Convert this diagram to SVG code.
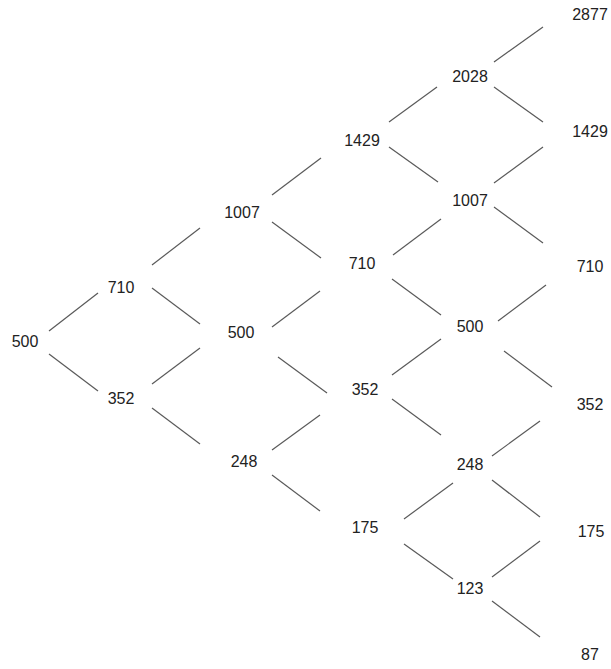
<svg xmlns="http://www.w3.org/2000/svg" width="611" height="669" viewBox="0 0 611 669">
<style>
.lbl{font-family:"Liberation Sans",Arial,sans-serif;font-size:16px;fill:#222;text-anchor:middle}
.edge{stroke:#5a5a5a;stroke-width:1.2;fill:none}
</style>
<rect width="611" height="669" fill="#fff"/>
<g id="connectors">
<line class="edge" x1="49" y1="331" x2="98" y2="293"/>
<line class="edge" x1="49" y1="354" x2="98" y2="391"/>
<line class="edge" x1="152" y1="265" x2="200" y2="228"/>
<line class="edge" x1="152" y1="288" x2="200" y2="324"/>
<line class="edge" x1="152" y1="384" x2="200" y2="348"/>
<line class="edge" x1="152" y1="408" x2="200" y2="444"/>
<line class="edge" x1="272" y1="195" x2="321" y2="158"/>
<line class="edge" x1="272" y1="222" x2="321" y2="258"/>
<line class="edge" x1="272" y1="327" x2="320" y2="291"/>
<line class="edge" x1="278" y1="357" x2="327" y2="393"/>
<line class="edge" x1="272" y1="450" x2="320" y2="415"/>
<line class="edge" x1="272" y1="475" x2="320" y2="511"/>
<line class="edge" x1="389" y1="122" x2="437" y2="87"/>
<line class="edge" x1="389" y1="147" x2="438" y2="182"/>
<line class="edge" x1="393" y1="255" x2="441" y2="219"/>
<line class="edge" x1="392" y1="279" x2="441" y2="315"/>
<line class="edge" x1="392" y1="375" x2="441" y2="339"/>
<line class="edge" x1="392" y1="399" x2="441" y2="435"/>
<line class="edge" x1="404" y1="519" x2="453" y2="483"/>
<line class="edge" x1="404" y1="544" x2="453" y2="579"/>
<line class="edge" x1="494" y1="62" x2="543" y2="27"/>
<line class="edge" x1="494" y1="87" x2="543" y2="122"/>
<line class="edge" x1="494" y1="183" x2="543" y2="147"/>
<line class="edge" x1="494" y1="207" x2="543" y2="243"/>
<line class="edge" x1="498" y1="321" x2="546" y2="285"/>
<line class="edge" x1="504" y1="351" x2="552" y2="387"/>
<line class="edge" x1="492" y1="456" x2="540" y2="421"/>
<line class="edge" x1="492" y1="480" x2="540" y2="517"/>
<line class="edge" x1="492" y1="577" x2="540" y2="541"/>
<line class="edge" x1="492" y1="601" x2="540" y2="637"/>
</g>
<g id="n0_0"><text class="lbl" x="25" y="347">500</text></g>
<g id="n1_0"><text class="lbl" x="121" y="293">710</text></g>
<g id="n1_1"><text class="lbl" x="121" y="404">352</text></g>
<g id="n2_0"><text class="lbl" x="242" y="218">1007</text></g>
<g id="n2_1"><text class="lbl" x="241" y="338">500</text></g>
<g id="n2_2"><text class="lbl" x="244" y="467">248</text></g>
<g id="n3_0"><text class="lbl" x="362" y="146">1429</text></g>
<g id="n3_1"><text class="lbl" x="362" y="269">710</text></g>
<g id="n3_2"><text class="lbl" x="365" y="395">352</text></g>
<g id="n3_3"><text class="lbl" x="365" y="533">175</text></g>
<g id="n4_0"><text class="lbl" x="470" y="82">2028</text></g>
<g id="n4_1"><text class="lbl" x="470" y="206">1007</text></g>
<g id="n4_2"><text class="lbl" x="470" y="332">500</text></g>
<g id="n4_3"><text class="lbl" x="470" y="470">248</text></g>
<g id="n4_4"><text class="lbl" x="470" y="594">123</text></g>
<g id="n5_0"><text class="lbl" x="590" y="20">2877</text></g>
<g id="n5_1"><text class="lbl" x="590" y="137">1429</text></g>
<g id="n5_2"><text class="lbl" x="590" y="272">710</text></g>
<g id="n5_3"><text class="lbl" x="590" y="410">352</text></g>
<g id="n5_4"><text class="lbl" x="591" y="537">175</text></g>
<g id="n5_5"><text class="lbl" x="590" y="660">87</text></g>
</svg>
